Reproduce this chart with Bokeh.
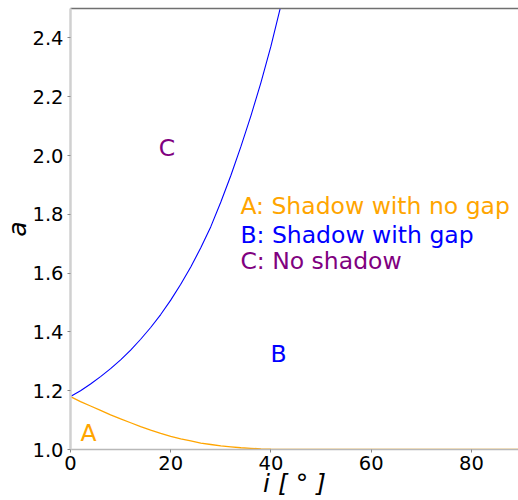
from bokeh.plotting import figure
from bokeh.models import (Range1d, FixedTicker, PrintfTickFormatter, LinearAxis,
                          ColumnDataSource)
from bokeh.core.properties import value
from bokeh.embed import file_html
from bokeh.resources import INLINE

# Data
angle_b = [0, 2, 4, 6, 8, 10, 12, 14, 16, 18, 20, 22, 24, 26, 28, 30, 32, 34, 36, 38, 40, 42]
a_b = [1.180, 1.200, 1.223, 1.248, 1.275, 1.305, 1.338, 1.375, 1.415, 1.459, 1.508,
       1.562, 1.621, 1.686, 1.758, 1.842, 1.932, 2.030, 2.135, 2.248, 2.372, 2.511]

angle_a = [0, 2, 4, 6, 8, 10, 12, 14, 16, 18, 20, 22, 24, 26, 28, 30, 32, 34, 36, 38, 40,
           45, 50, 60, 70, 80, 90]
a_a = [1.180, 1.163, 1.148, 1.133, 1.118, 1.104, 1.091, 1.078, 1.066, 1.055, 1.045,
       1.036, 1.029, 1.022, 1.017, 1.012, 1.009, 1.006, 1.004, 1.002, 1.001,
       1.0003, 1.0, 1.0, 1.0, 1.0, 1.0]

x_ticks = [0, 20, 40, 60, 80]
y_ticks = [1.0, 1.2, 1.4, 1.6, 1.8, 2.0, 2.2, 2.4]
x_title = "i [ ° ]"
y_title = "a"

region_text = ["C", "B", "A"]
region_x = [17.6, 39.9, 2.0]
region_y = [2.024, 1.326, 1.055]
region_color = ["purple", "blue", "orange"]

legend_text = ["A: Shadow with no gap", "B: Shadow with gap", "C: No shadow"]
legend_x = [33.9, 33.9, 33.9]
legend_y = [1.829, 1.731, 1.641]
legend_color = ["orange", "blue", "purple"]

FONT = "DejaVu Sans"
TXT = "23.5px"

p = figure(width=518, height=500, output_backend="svg", toolbar_location=None,
           x_range=Range1d(0, 89.4), y_range=Range1d(1.0, 2.5),
           min_border_left=69, min_border_right=0, min_border_top=8, min_border_bottom=51)
p.background_fill_color = "white"
p.border_fill_color = "white"
p.outline_line_color = None
p.xgrid.visible = False
p.ygrid.visible = False

p.line(angle_b, a_b, line_color="blue", line_width=1.1)
p.line(angle_a, a_a, line_color="orange", line_width=1.3)

src_r = ColumnDataSource(dict(x=region_x, y=region_y, t=region_text, c=region_color))
p.text(x="x", y="y", text="t", text_color="c", source=src_r,
       text_font=value(FONT), text_font_size=TXT,
       text_align="left", text_baseline="alphabetic")

src_l = ColumnDataSource(dict(x=legend_x, y=legend_y, t=legend_text, c=legend_color))
p.text(x="x", y="y", text="t", text_color="c", source=src_l,
       text_font=value(FONT), text_font_size=TXT,
       text_align="left", text_baseline="alphabetic")

for ax in (p.xaxis[0], p.yaxis[0]):
    ax.major_label_text_font = FONT
    ax.major_label_text_font_size = "19.5px"
    ax.major_label_text_color = "black"
    ax.major_tick_in = 0
    ax.major_tick_out = 3
    ax.major_tick_line_color = "#888888"
    ax.minor_tick_line_color = None
    ax.axis_label_text_font = FONT
    ax.axis_label_text_font_size = "25px"
    ax.axis_label_text_font_style = "italic"
    ax.axis_label_text_color = "black"

p.xaxis.ticker = FixedTicker(ticks=x_ticks)
p.xaxis.formatter = PrintfTickFormatter(format="%d")
p.xaxis.axis_line_color = "#b8b8b8"
p.xaxis.axis_line_width = 1.5
p.xaxis.axis_label = x_title
p.xaxis.major_label_standoff = 3
p.xaxis.axis_label_standoff = -4

p.yaxis.ticker = FixedTicker(ticks=y_ticks)
p.yaxis.formatter = PrintfTickFormatter(format="%.1f")
p.yaxis.axis_line_color = "#d0d0d0"
p.yaxis.axis_line_width = 2.5
p.yaxis.axis_label = y_title
p.yaxis.major_label_standoff = 4
p.yaxis.axis_label_standoff = -3

top = LinearAxis(ticker=FixedTicker(ticks=[]), major_tick_out=0, major_tick_in=0,
                 minor_tick_out=0, major_label_text_font_size="0px",
                 axis_line_color="#707070", axis_line_width=1.5)
p.add_layout(top, "above")

open("out.html", "w").write(file_html(p, INLINE))
